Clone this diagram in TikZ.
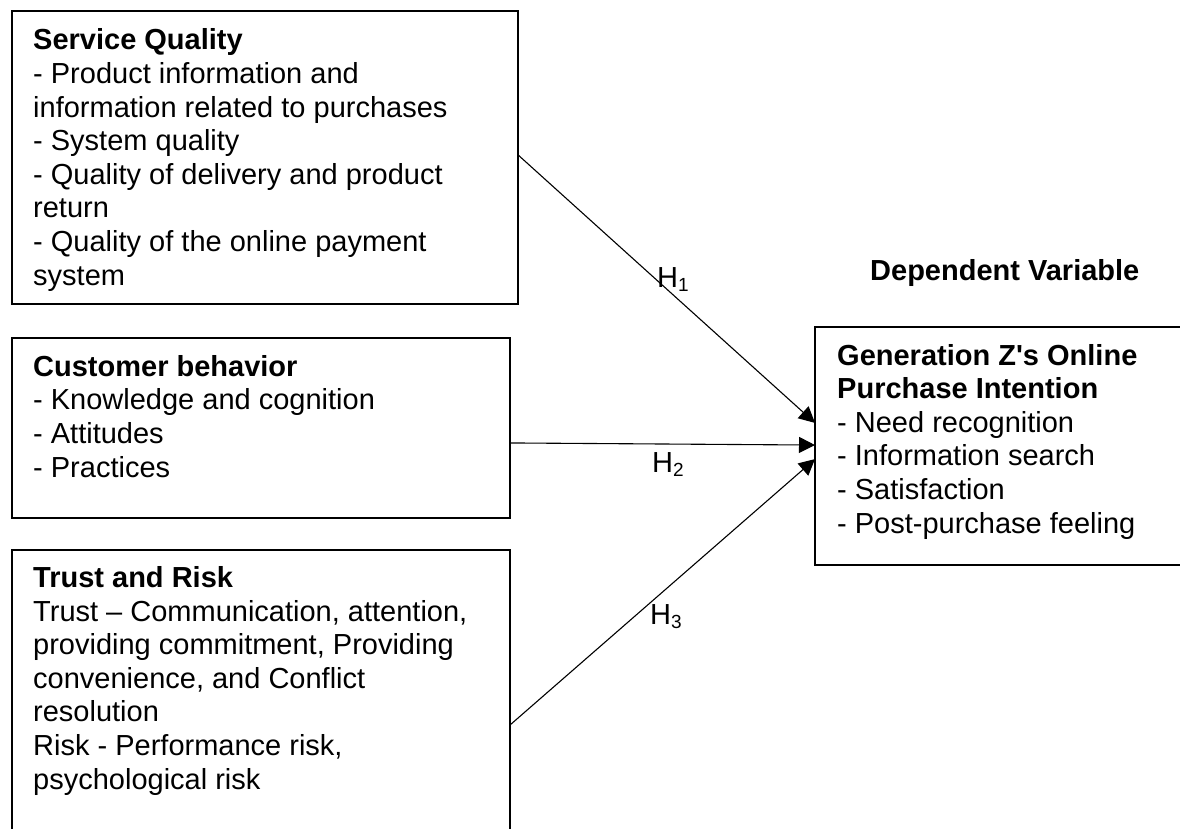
\documentclass[tikz,border=0pt]{standalone}
\usepackage{fontspec}
\setmainfont{Liberation Sans}
\usetikzlibrary{arrows.meta,calc}
\newcommand\hsub[1]{\raisebox{-4pt}{\fontsize{19}{19}\selectfont #1}}
\begin{document}
\begin{tikzpicture}[x=1pt,y=-1pt,
  box/.style={draw, line width=1.8pt, inner sep=0pt, outer sep=0pt, anchor=north west},
  % multi-line text: the base anchor sits on the last line
  body/.style={anchor=base west, align=left, inner sep=0pt, font=\fontsize{29}{33.6}\selectfont},
  link/.style={-{Triangle[length=16pt,width=16pt]}, line width=1.1pt},
  hyp/.style={anchor=base west, inner sep=0pt, font=\fontsize{29}{33.6}\selectfont}]
\useasboundingbox (0,0) rectangle (1180,828);
\clip (0,0) rectangle (1180,828);

% construct boxes
\node[box, minimum width=506pt, minimum height=293pt] (sq) at (12,11) {};
\node[box, minimum width=498pt, minimum height=180pt] (cb) at (12,338) {};
\node[box, minimum width=498pt, minimum height=350pt] (tr) at (12,550) {};
\node[box, minimum width=420pt, minimum height=238pt] (dv) at (815,327) {};

% box contents
\node[body] (sqtext) at (33,285) {\textbf{Service Quality}\\
- Product information and\\
information related to purchases\\
- System quality\\
- Quality of delivery and product\\
return\\
- Quality of the online payment\\
system};
\node[body] (cbtext) at (33,477) {\textbf{Customer behavior}\\
- Knowledge and cognition\\
- Attitudes\\
- Practices};
\node[body] (trtext) at (33,789) {\textbf{Trust and Risk}\\
Trust – Communication, attention,\\
providing commitment, Providing\\
convenience, and Conflict\\
resolution\\
Risk - Performance risk,\\
psychological risk};
\node[body] (dvtext) at (837,533) {\textbf{Generation Z\textquotesingle s Online}\\
\textbf{Purchase Intention}\\
- Need recognition\\
- Information search\\
- Satisfaction\\
- Post-purchase feeling};
\node[hyp] (dvtitle) at (870,280) {\textbf{Dependent Variable}};

% hypothesised paths
\draw[link] ($(sq.north east)!0.491!(sq.south east)$) -- ($(dv.north west)!0.403!(dv.south west)$);
\draw[link] ($(cb.north east)!0.583!(cb.south east)$) -- ($(dv.north west)!0.496!(dv.south west)$);
\draw[link] ($(tr.north east)!0.5!(tr.south east)$) -- ($(dv.north west)!0.555!(dv.south west)$);

\node[hyp] (h1) at (657,287) {H\hsub{1}};
\node[hyp] (h2) at (652,472) {H\hsub{2}};
\node[hyp] (h3) at (650,624) {H\hsub{3}};
\end{tikzpicture}
\end{document}
